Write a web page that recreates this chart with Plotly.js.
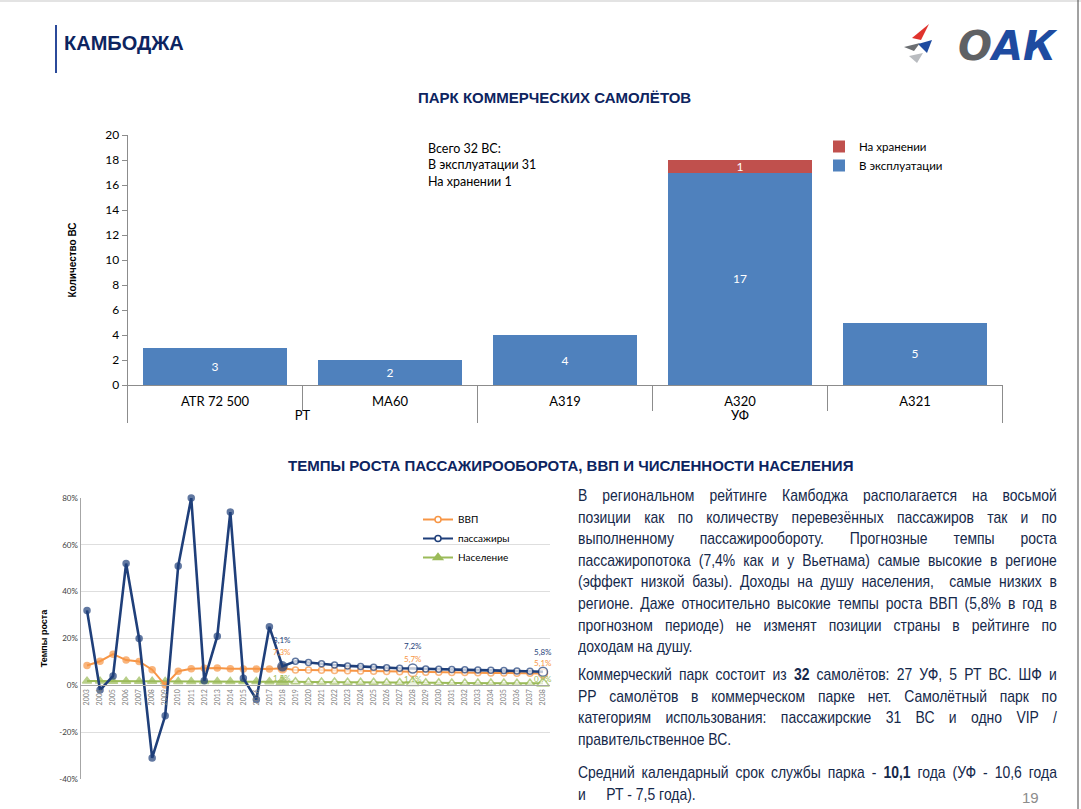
<!DOCTYPE html>
<html><head><meta charset="utf-8">
<script src="https://cdn.plot.ly/plotly-3.0.1.min.js"></script>
<style>
body{margin:0;background:#fff;overflow:hidden;}
#wrap{position:relative;width:1081px;height:809px;overflow:hidden;background:#fff;}
#chart{position:absolute;left:0;top:0;width:1081px;height:809px;}
.txt{position:absolute;left:578px;width:584px;transform:scaleX(0.82);transform-origin:0 0;
  font-family:"Liberation Sans",Arial,sans-serif;font-size:17px;line-height:21.6px;color:#15284a;}
.txt div{text-align:justify;text-align-last:justify;white-space:nowrap;}
.txt div.last{text-align-last:left;width:fit-content;}
</style></head>
<body>
<div id="wrap">
<div id="chart"></div>
<div class="txt" style="top:485px;">
<div>В региональном рейтинге Камбоджа располагается на восьмой</div>
<div>позиции как по количеству перевезённых пассажиров так и по</div>
<div>выполненному пассажирообороту. Прогнозные темпы роста</div>
<div>пассажиропотока (7,4% как и у Вьетнама) самые высокие в регионе</div>
<div>(эффект низкой базы). Доходы на душу населения,&nbsp; самые низких в</div>
<div>регионе. Даже относительно высокие темпы роста ВВП (5,8% в год в</div>
<div>прогнозном периоде) не изменят позиции страны в рейтинге по</div>
<div class="last">доходам на душу.</div>
</div>
<div class="txt" style="top:664px;">
<div>Коммерческий парк состоит из <b>32</b> самолётов: 27 УФ, 5 РТ ВС. ШФ и</div>
<div>РР самолётов в коммерческом парке нет. Самолётный парк по</div>
<div>категориям использования: пассажирские 31 ВС и одно VIP /</div>
<div class="last">правительственное ВС.</div>
</div>
<div class="txt" style="top:762px;">
<div>Средний календарный срок службы парка - <b>10,1</b> года (УФ - 10,6 года</div>
<div class="last">и<span style="display:inline-block;width:25px"></span>РТ - 7,5 года).</div>
</div>
</div>
<script>
// ---------- DATA ----------
const fleetGroups = ['РТ', 'РТ', 'УФ', 'УФ', 'УФ'];
const fleetTypes = ['ATR 72 500', 'MA60', 'A319', 'A320', 'A321'];
const inService = [3, 2, 4, 17, 5];
const inStorage = [null, null, null, 1, null];

const years = ['2003','2004','2005','2006','2007','2008','2009','2010','2011','2012',
  '2013','2014','2015','2016','2017','2018','2019','2020','2021','2022','2023','2024',
  '2025','2026','2027','2028','2029','2030','2031','2032','2033','2034','2035','2036',
  '2037','2038'];
const gdp = [8.5, 10.3, 13.3, 10.8, 10.2, 6.7, 0.1, 6.0, 7.1, 7.3, 7.4, 7.1, 7.0, 7.0, 7.0, 7.3,
  6.6, 6.5, 6.4, 6.3, 6.2, 6.1, 6.0, 5.9, 5.8, 5.7, 5.6, 5.6, 5.5, 5.5, 5.4, 5.3, 5.3, 5.2, 5.2, 5.1];
const pax = [32, -2, 4, 52, 20, -31, -13, 51, 80, 2, 21, 74, 3, -6, 25, 8.1,
  10.3, 9.7, 9.2, 8.7, 8.3, 8.0, 7.7, 7.5, 7.3, 7.2, 7.0, 6.9, 6.8, 6.7, 6.5, 6.4, 6.3, 6.1, 6.0, 5.8];
const pop = [1.8, 1.8, 1.7, 1.7, 1.7, 1.7, 1.6, 1.6, 1.6, 1.6, 1.6, 1.6, 1.6, 1.6, 1.5, 1.5,
  1.5, 1.4, 1.4, 1.4, 1.3, 1.3, 1.3, 1.2, 1.2, 1.1, 1.1, 1.1, 1.0, 1.0, 1.0, 1.0, 1.0, 0.9, 0.9, 0.9];
const lastActual = '2018';
const labelYears = ['2018', '2028', '2038'];
const pctTicks = [-40, -20, 0, 20, 40, 60, 80];
const pctTickText = ['-40%', '-20%', '0%', '20%', '40%', '60%', '80%'];

// ---------- HELPERS ----------
const W = 1081, H = 809;
const px = x => x / W;
const py = y => 1 - y / H;
const NAVY = '#0d2460';
const cBlue = '#4F81BD', cRed = '#C0504D';
const cPax = '#1F3F7A', cGdp = '#F79646', cPop = '#9BBB59';
const FONT = 'Lato, "Open Sans", sans-serif';
const HEAD = '"Liberation Sans", Arial, sans-serif';
const lastIdx = years.indexOf(lastActual);
const isFc = years.map((y, i) => i > lastIdx);
const bigPt = years.map(y => labelYears.includes(y));
const fmt = v => v.toFixed(1).replace('.', ',') + '%';

function lineTrace(vals, color, symbol, baseSize, width) {
  return {
    type: 'scatter', mode: 'lines+markers', x: years, y: vals, xaxis: 'x2', yaxis: 'y2',
    showlegend: false, hoverinfo: 'skip', cliponaxis: false,
    line: {color: color, width: width},
    marker: {
      symbol: symbol,
      size: years.map((y, i) => bigPt[i] ? baseSize + 3 : baseSize),
      color: isFc.map(f => f ? '#ffffff' : color),
      line: {color: color, width: 1.5}
    }
  };
}
function legendTrace(name, color, symbol, filled, size) {
  return {
    type: 'scatter', mode: 'lines+markers', x: [null], y: [null], xaxis: 'x2', yaxis: 'y2',
    name: name, legend: 'legend2', hoverinfo: 'skip',
    line: {color: color, width: 2},
    marker: {symbol: symbol, size: size, color: filled ? color : '#ffffff', line: {color: color, width: 1.5}}
  };
}
const barText = {color: '#ffffff', size: 12, family: FONT};
const traces = [
  {type: 'bar', x: [fleetGroups, fleetTypes], y: inService, name: 'В эксплуатации',
   marker: {color: cBlue}, text: inService.map(v => String(v)), textposition: 'inside', textangle: 0,
   insidetextanchor: 'middle', constraintext: 'none', textfont: barText, hoverinfo: 'skip'},
  {type: 'bar', x: [fleetGroups, fleetTypes], y: inStorage, name: 'На хранении',
   marker: {color: cRed}, text: inStorage.map(v => v == null ? '' : String(v)), textposition: 'inside', textangle: 0,
   insidetextanchor: 'middle', constraintext: 'none', textfont: barText, hoverinfo: 'skip'},
  lineTrace(pop, cPop, 'triangle-up', 8, 2),
  lineTrace(gdp, cGdp, 'circle', 6, 2),
  lineTrace(pax, cPax, 'circle', 6, 2.6),
  legendTrace('ВВП', cGdp, 'circle', false, 6),
  legendTrace('пассажиры', cPax, 'circle', false, 6),
  legendTrace('Население', cPop, 'triangle-up', true, 8)
];

// data labels on the line chart
const lblAnn = [];
const series = [[pax, cPax, [26, 22, 20]], [gdp, cGdp, [16, 13, 10]], [pop, cPop, [4, 4, 4]]];
series.forEach(([vals, color, shifts]) => {
  labelYears.forEach((yr, k) => {
    const i = years.indexOf(yr);
    lblAnn.push({xref: 'x2', yref: 'y2', x: i, y: vals[i], text: fmt(vals[i]), showarrow: false,
      xanchor: 'center', yanchor: 'middle',
      yshift: shifts[k], font: {family: FONT, size: 8, color: color}});
  });
});

const y2d = [py(779), py(498)];
const y2range = [pctTicks[0], pctTicks[pctTicks.length - 1]];
const x2pos = y2d[0] + (y2d[1] - y2d[0]) * (0 - y2range[0]) / (y2range[1] - y2range[0]);

const pAnn = (x, y, text, font, extra) => Object.assign({xref: 'paper', yref: 'paper', x: px(x), y: py(y),
  xanchor: 'center', yanchor: 'middle', text: text, showarrow: false, font: font}, extra || {});

const annotations = [
  pAnn(62, 43, '<b>КАМБОДЖА</b>', {family: 'sans-serif', size: 20, color: NAVY}, {xanchor: 'left'}),
  pAnn(554, 97, '<b>ПАРК КОММЕРЧЕСКИХ САМОЛЁТОВ</b>', {family: 'sans-serif', size: 15, color: NAVY}),
  pAnn(570, 466, '<b>ТЕМПЫ РОСТА ПАССАЖИРООБОРОТА, ВВП И ЧИСЛЕННОСТИ НАСЕЛЕНИЯ</b>', {family: 'sans-serif', size: 15, color: NAVY}),
  pAnn(426, 139, 'Всего 32 ВС:<br>В эксплуатации 31<br>На хранении 1', {family: FONT, size: 12.5, color: '#000'},
    {xanchor: 'left', yanchor: 'top', align: 'left'}),
  pAnn(1030, 797, '19', {family: HEAD, size: 15, color: '#8c8c8c'}),
  pAnn(1060, 46, '<b><i>О<span style="color:#1e4ba0">АК</span></i></b>',
    {family: '"DejaVu Sans", sans-serif', size: 40, color: '#5f6164'}, {xanchor: 'right'})
].concat(lblAnn);

const P = (x, y) => px(x).toFixed(5) + ',' + py(y).toFixed(5);
const tri = (a, b, c, color) => ({type: 'path', xref: 'paper', yref: 'paper',
  path: 'M' + P(a[0], a[1]) + ' L' + P(b[0], b[1]) + ' L' + P(c[0], c[1]) + ' Z',
  fillcolor: color, line: {width: 0}});
const shapes = [
  {type: 'line', xref: 'paper', yref: 'paper', x0: px(56), x1: px(56), y0: py(25), y1: py(73), line: {color: '#2b4a9a', width: 2}},
  {type: 'line', xref: 'paper', yref: 'paper', x0: 0, x1: 1, y0: py(1), y1: py(1), line: {color: '#e3e3e3', width: 2}},
  {type: 'line', xref: 'paper', yref: 'paper', x0: px(1078), x1: px(1078), y0: 0, y1: 1, line: {color: '#444', width: 1}},
  tri([912, 38], [929, 24], [921, 40], '#e0332d'),
  tri([918, 44], [932, 40], [927, 53], '#1e4ba0'),
  tri([904, 47], [920, 43], [914, 51], '#6b6e72'),
  tri([909, 56], [923, 53], [917, 63], '#b9bcc0')
];

const layout = {
  width: W, height: H, margin: {l: 0, r: 0, t: 0, b: 0},
  paper_bgcolor: 'rgba(0,0,0,0)', plot_bgcolor: 'rgba(0,0,0,0)',
  font: {family: FONT, color: '#000'},
  barmode: 'stack', bargap: 0.18,
  xaxis: {domain: [px(127.5), px(1002.5)], anchor: 'y', type: 'multicategory',
    showline: true, linecolor: '#8c8c8c', linewidth: 1, ticks: 'outside', tickson: 'boundaries',
    ticklen: 25, tickcolor: '#8c8c8c', showdividers: true, dividercolor: '#8c8c8c', dividerwidth: 1,
    ticklabelstandoff: 4,
    tickfont: {family: FONT, size: 13, color: '#000'}, showgrid: false, fixedrange: true},
  yaxis: {domain: [py(385), py(135)], anchor: 'x', range: [0, 20], dtick: 2,
    showline: true, linecolor: '#8c8c8c', ticks: 'outside', ticklen: 5, tickcolor: '#8c8c8c',
    showgrid: false, zeroline: false, tickfont: {family: FONT, size: 12, color: '#000'},
    title: {text: '<b>Количество ВС</b>', font: {family: 'sans-serif', size: 10, color: '#000'}, standoff: 26}},
  xaxis2: {domain: [px(80.5), px(549.5)], anchor: 'free', position: x2pos, type: 'category',
    range: [-0.5, years.length - 0.5], autorange: false,
    showline: true, linecolor: '#a6a6a6', ticks: '', tickangle: -90, showgrid: false,
    tickfont: {family: FONT, size: 7, color: '#7f7f7f'}, fixedrange: true},
  yaxis2: {domain: y2d, anchor: 'x2', range: y2range, autorange: false, tickvals: pctTicks, ticktext: pctTickText,
    showline: true, linecolor: '#a6a6a6', showgrid: true, gridcolor: '#dedede', zeroline: false,
    ticks: '', tickfont: {family: FONT, size: 8, color: '#404040'},
    title: {text: '<b>Темпы роста</b>', font: {family: 'sans-serif', size: 9, color: '#000'}, standoff: 10}},
  legend: {x: px(819), y: py(132), xanchor: 'left', yanchor: 'top', traceorder: 'reversed',
    font: {family: FONT, size: 11.5, color: '#000'}, bgcolor: 'rgba(0,0,0,0)', itemwidth: 30, tracegroupgap: 0},
  legend2: {x: px(418), y: py(505), xanchor: 'left', yanchor: 'top',
    font: {family: FONT, size: 10, color: '#000'}, bgcolor: 'rgba(0,0,0,0)', itemwidth: 30},
  annotations: annotations,
  shapes: shapes
};

Plotly.newPlot('chart', traces, layout, {staticPlot: true, displayModeBar: false});
</script>
</body></html>
